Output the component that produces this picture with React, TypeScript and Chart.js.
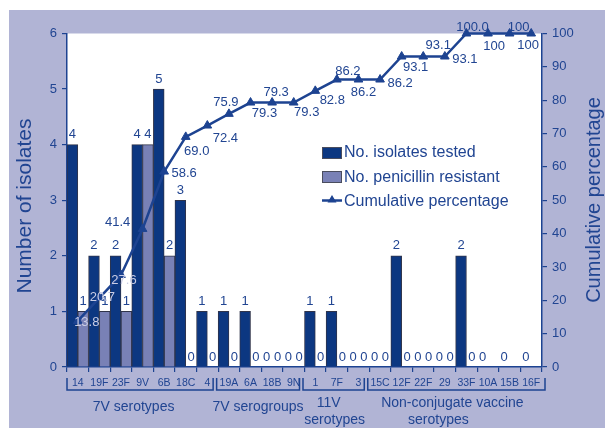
import React, { useEffect, useRef } from 'react';
import { Chart, registerables } from 'chart.js';

Chart.register(...registerables);

// ---------- data ----------
const serotypes = ['14', '19F', '23F', '9V', '6B', '18C', '4', '19A', '6A', '18B', '9N', '1', '7F', '3', '15C', '12F', '22F', '29', '33F', '10A', '15B', '16F'];
const isolatesTested = [4, 2, 2, 4, 5, 3, 1, 1, 1, 0, 0, 1, 1, 0, 0, 2, 0, 0, 2, 0, 0, 0];
const penicillinResistant: (number | null)[] = [1, 1, 1, 4, 2, 0, 0, 0, 0, 0, 0, 0, 0, 0, 0, 0, 0, 0, 0, null, null, null];
const cumulativePercentage = [13.8, 20.7, 27.6, 41.4, 58.6, 69.0, 72.4, 75.9, 79.3, 79.3, 79.3, 82.8, 86.2, 86.2, 86.2, 93.1, 93.1, 93.1, 100.0, 100, 100, 100];
const cumulativeLabels = ['13.8', '20.7', '27.6', '41.4', '58.6', '69.0', '72.4', '75.9', '79.3', '79.3', '79.3', '82.8', '86.2', '86.2', '86.2', '93.1', '93.1', '93.1', '100.0', '100', '100', '100'];
const groupLines = [['7V serotypes'], ['7V serogroups'], ['11V', 'serotypes'], ['Non-conjugate vaccine', 'serotypes']];
const groupFirst = [0, 7, 11, 14];
const groupLast = [6, 10, 13, 21];
const seriesNames = ['No. isolates tested', 'No. penicillin resistant', 'Cumulative percentage'];
const leftTitle = 'Number of isolates';
const rightTitle = 'Cumulative percentage';

// ---------- styling / layout ----------
const FONT = '"Liberation Sans", Arial, Helvetica, sans-serif';
const BG = '#b1b4d5';
const DARK = '#0c3781';
const LIGHT = '#7981b6';
const LINE = '#1d4391';
const TEXT = '#214592';
const LIGHT_TEXT = '#c9cce4';
const BAR_EDGE = '#30344a';

// offsets (dx, dy) of each cumulative label from its point
const cumOffsets: [number, number][] = [
  [9, 1], [3, -1], [3, 5], [-25, -6.5], [20, 1.5], [11, 15], [18, 12.5], [-3, -11],
  [14, 10.5], [4, -10.5], [13, 9.5], [17, 10], [11, -8.5], [5, 12.5], [20, 3.5],
  [14, 11], [15, -11.5], [20, 2.5], [6, -6.5], [6, 12.5], [9, -6.5], [-3, 12],
];
const cumLightLabels = [0, 1, 2];
// label x-offsets (per line) relative to bracket centre
const groupLabelDx = [[-6.5], [0], [-5, 1], [-4, -18]];

const decor = {
  id: 'decor',
  beforeDraw(chart: any) {
    const { ctx, chartArea: a } = chart;
    ctx.save();
    ctx.fillStyle = BG;
    ctx.fillRect(9, 10, chart.width - 9, chart.height - 10);
    ctx.fillStyle = '#ffffff';
    ctx.fillRect(a.left, a.top, a.right - a.left, a.bottom - a.top);
    ctx.restore();
  },
  afterDatasetsDraw(chart: any) {
    const { ctx } = chart;
    ctx.save();
    ctx.font = `13px ${FONT}`;
    ctx.textAlign = 'center';
    ctx.textBaseline = 'alphabetic';
    ctx.fillStyle = TEXT;
    [0, 1].forEach((di) => {
      const meta = chart.getDatasetMeta(di);
      const vals = chart.data.datasets[di].data;
      meta.data.forEach((bar: any, i: number) => {
        const v = vals[i];
        if (v === null || v === undefined) return;
        ctx.fillText(String(v), bar.x, bar.y - 6.5);
      });
    });
    const lm = chart.getDatasetMeta(2);
    ctx.textBaseline = 'middle';
    lm.data.forEach((pt: any, i: number) => {
      const [dx, dy] = cumOffsets[i];
      ctx.fillStyle = cumLightLabels.includes(i) ? LIGHT_TEXT : TEXT;
      ctx.fillText(cumulativeLabels[i], pt.x + dx, pt.y + dy);
    });
    ctx.restore();
  },
  afterDraw(chart: any) {
    const { ctx } = chart;
    const xs = chart.scales.x;
    ctx.save();
    // legend
    ctx.font = `16px ${FONT}`;
    ctx.textAlign = 'left';
    ctx.textBaseline = 'middle';
    ctx.fillStyle = DARK;
    ctx.fillRect(322, 147, 19, 11);
    ctx.strokeStyle = '#4a4d5e';
    ctx.lineWidth = 1;
    ctx.strokeRect(322.5, 147.5, 19, 11);
    ctx.fillStyle = LIGHT;
    ctx.fillRect(322, 171, 19, 11);
    ctx.strokeRect(322.5, 171.5, 19, 11);
    ctx.strokeStyle = LINE;
    ctx.lineWidth = 2.5;
    ctx.beginPath();
    ctx.moveTo(322, 200.5);
    ctx.lineTo(342, 200.5);
    ctx.stroke();
    ctx.fillStyle = LINE;
    ctx.beginPath();
    ctx.moveTo(332, 195);
    ctx.lineTo(336.5, 202.5);
    ctx.lineTo(327.5, 202.5);
    ctx.closePath();
    ctx.fill();
    ctx.fillStyle = TEXT;
    ctx.fillText(seriesNames[0], 344, 153);
    ctx.fillText(seriesNames[1], 344, 177.5);
    ctx.fillText(seriesNames[2], 344, 202);

    // axis titles
    ctx.textAlign = 'center';
    ctx.font = `21px ${FONT}`;
    ctx.save();
    ctx.translate(25, 206);
    ctx.rotate(-Math.PI / 2);
    ctx.fillText(leftTitle, 0, 0);
    ctx.restore();
    ctx.font = `20px ${FONT}`;
    ctx.save();
    ctx.translate(594, 200);
    ctx.rotate(-Math.PI / 2);
    ctx.fillText(rightTitle, 0, 0);
    ctx.restore();

    // group brackets
    const half = (xs.getPixelForValue(1) - xs.getPixelForValue(0)) / 2;
    ctx.strokeStyle = LINE;
    ctx.lineWidth = 1.5;
    ctx.font = `14px ${FONT}`;
    ctx.fillStyle = TEXT;
    groupLines.forEach((lines, g) => {
      const lb = xs.getPixelForValue(groupFirst[g]) - half;
      const rb = xs.getPixelForValue(groupLast[g]) + half;
      const x0 = g === 0 ? lb : lb - 1.5;
      const x1 = g === groupLines.length - 1 ? rb + 3 : rb - 5;
      ctx.beginPath();
      ctx.moveTo(x0, 378);
      ctx.lineTo(x0, 390);
      ctx.lineTo(x1, 390);
      ctx.lineTo(x1, 378);
      ctx.stroke();
      const cx = (x0 + x1) / 2;
      if (lines.length === 1) {
        ctx.fillText(lines[0], cx + groupLabelDx[g][0], 407);
      } else {
        ctx.fillText(lines[0], cx + groupLabelDx[g][0], 403);
        ctx.fillText(lines[1], cx + groupLabelDx[g][1], 420);
      }
    });
    ctx.restore();
  },
};

export default function App() {
  const ref = useRef<HTMLCanvasElement>(null);
  useEffect(() => {
    const prev = document.body.style.margin;
    document.body.style.margin = '0';
    const chart = new Chart(ref.current as HTMLCanvasElement, {
      type: 'bar',
      data: {
        labels: serotypes,
        datasets: [
          {
            type: 'bar',
            label: seriesNames[0],
            data: isolatesTested,
            backgroundColor: DARK,
            borderColor: BAR_EDGE,
            borderWidth: { top: 1, left: 1, right: 1, bottom: 0 },
            categoryPercentage: 1,
            barPercentage: 1,
            yAxisID: 'y',
            order: 2,
          },
          {
            type: 'bar',
            label: seriesNames[1],
            data: penicillinResistant,
            backgroundColor: LIGHT,
            borderColor: BAR_EDGE,
            borderWidth: { top: 1, left: 1, right: 1, bottom: 0 },
            categoryPercentage: 1,
            barPercentage: 1,
            yAxisID: 'y',
            order: 2,
          },
          {
            type: 'line',
            label: seriesNames[2],
            data: cumulativePercentage,
            borderColor: LINE,
            backgroundColor: LINE,
            borderWidth: 2.5,
            pointStyle: 'triangle',
            pointRadius: 5,
            pointBorderWidth: 1,
            pointBackgroundColor: LINE,
            pointBorderColor: LINE,
            tension: 0,
            yAxisID: 'y1',
            clip: false,
            order: 1,
          } as any,
        ],
      },
      options: {
        responsive: false,
        animation: false,
        events: [],
        layout: { padding: { top: 33.5, left: 0, right: 0, bottom: 0 } },
        plugins: { legend: { display: false }, tooltip: { enabled: false } },
        scales: {
          x: {
            type: 'category',
            offset: true,
            grid: { offset: true, drawOnChartArea: false, drawTicks: true, tickLength: 5, color: LINE, lineWidth: 1.2 },
            border: { display: true, color: LINE, width: 1.5 },
            ticks: { color: TEXT, font: { size: 10.5, family: FONT }, padding: 5, maxRotation: 0, minRotation: 0, autoSkip: false },
            afterFit: (s: any) => { s.height = 61; },
          },
          y: {
            position: 'left',
            min: 0,
            max: 6,
            ticks: { stepSize: 1, color: TEXT, font: { size: 13, family: FONT }, padding: 5 },
            grid: { drawOnChartArea: false, drawTicks: true, tickLength: 5, color: LINE, lineWidth: 1.2 },
            border: { display: true, color: LINE, width: 1.5 },
            afterFit: (s: any) => { s.width = 67; },
          },
          y1: {
            position: 'right',
            min: 0,
            max: 100,
            ticks: { stepSize: 10, color: TEXT, font: { size: 13, family: FONT }, padding: 5 },
            grid: { drawOnChartArea: false, drawTicks: true, tickLength: 5, color: LINE, lineWidth: 1.2 },
            border: { display: true, color: LINE, width: 1.5 },
            afterFit: (s: any) => { s.width = 63; },
          },
        },
      } as any,
      plugins: [decor],
    });
    return () => {
      chart.destroy();
      document.body.style.margin = prev;
    };
  }, []);
  return (
    <div style={{ width: 605, height: 428 }}>
      <canvas ref={ref} width={605} height={428} style={{ display: 'block', width: 605, height: 428 }} />
    </div>
  );
}
